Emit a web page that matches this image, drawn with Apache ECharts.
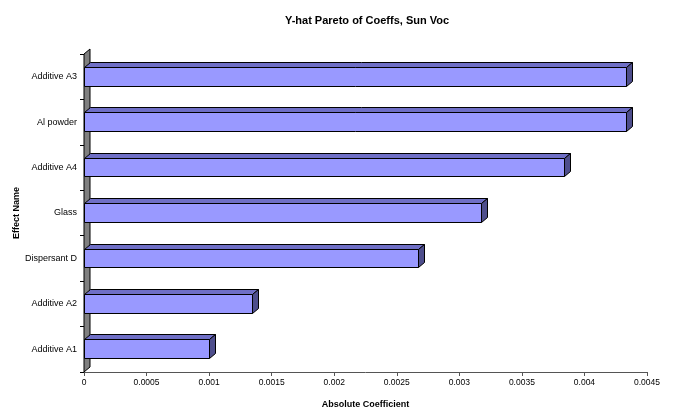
<!DOCTYPE html>
<html>
<head>
<meta charset="utf-8">
<script src="https://cdn.jsdelivr.net/npm/echarts@6/dist/echarts.min.js"></script>
<style>
  html, body { margin: 0; padding: 0; background: #fff; }
  #chart { width: 673px; height: 412px; }
</style>
</head>
<body>
<div id="chart"></div>
<script>
// Effects, listed top to bottom
const categories = ['Additive A3', 'Al powder', 'Additive A4', 'Glass', 'Dispersant D', 'Additive A2', 'Additive A1'];
// Absolute coefficient for each effect
const coefficients = [0.00433, 0.00433, 0.00384, 0.00317, 0.00267, 0.00134, 0.00100];
// Value-axis tick labels
const tickLabels = ['0', '0.0005', '0.001', '0.0015', '0.002', '0.0025', '0.003', '0.0035', '0.004', '0.0045'];
const TICK_STEP = 0.0005;

// 3D extrusion of bars and wall
const DX = 6, DY = 5;
const FRONT = '#9999ff', TOP = '#6f6fc6', SIDE = '#4e4e8c';
const FONT = '"Liberation Sans", Arial, sans-serif';

const chart = echarts.init(document.getElementById('chart'), null, { renderer: 'canvas' });

function renderWall(params, api) {
  const cs = params.coordSys;
  const x = cs.x, y = cs.y, h = cs.height;
  return {
    type: 'polygon',
    shape: { points: [[x, y + h], [x, y], [x + DX, y - DY], [x + DX, y + h - DY]] },
    style: { fill: '#808080', stroke: '#000', lineWidth: 1 }
  };
}

function renderBar(params, api) {
  const v = api.value(0);
  const ci = api.value(1);
  const p0 = api.coord([0, ci]);
  const p1 = api.coord([v, ci]);
  const band = api.size([0, 1])[1];
  const h = band * 0.41;
  const cy = p0[1] - 0.5;
  const x0 = Math.round(p0[0]) + 0.5, x1 = Math.round(p1[0]) + 0.5;
  const yt = Math.round(cy - h / 2) + 0.5, yb = Math.round(cy + h / 2) + 0.5;
  const line = { stroke: '#000', lineWidth: 1 };
  return {
    type: 'group',
    children: [
      { type: 'polygon', shape: { points: [[x0, yt], [x1, yt], [x1 + DX, yt - DY], [x0 + DX, yt - DY]] },
        style: Object.assign({ fill: TOP }, line) },
      { type: 'polygon', shape: { points: [[x1, yt], [x1 + DX, yt - DY], [x1 + DX, yb - DY], [x1, yb]] },
        style: Object.assign({ fill: SIDE }, line) },
      { type: 'rect', shape: { x: x0, y: yt, width: x1 - x0, height: yb - yt },
        style: Object.assign({ fill: FRONT }, line) }
    ]
  };
}

chart.setOption({
  animation: false,
  backgroundColor: '#fff',
  title: {
    text: 'Y-hat Pareto of Coeffs, Sun Voc',
    left: 362,
    textAlign: 'center',
    top: 10,
    textStyle: { fontFamily: FONT, fontSize: 11, fontWeight: 'bold', color: '#000' }
  },
  grid: { left: 84, right: 26, top: 54, bottom: 40, containLabel: false, outerBoundsMode: 'none' },
  xAxis: {
    type: 'value',
    min: 0,
    max: 0.0045,
    interval: TICK_STEP,
    name: 'Absolute Coefficient',
    nameLocation: 'middle',
    nameGap: 28,
    nameMoveOverlap: false,
    nameTextStyle: { fontFamily: FONT, fontSize: 9, fontWeight: 'bold', color: '#000' },
    axisLine: { show: true, lineStyle: { color: '#555', width: 1 } },
    axisTick: { show: true, length: 4, lineStyle: { color: '#555' } },
    axisLabel: {
      fontFamily: FONT, fontSize: 8.5, color: '#000', margin: 6,
      formatter: v => tickLabels[Math.round(v / TICK_STEP)]
    },
    splitLine: { show: false }
  },
  yAxis: {
    type: 'category',
    data: categories,
    inverse: true,
    name: 'Effect Name',
    nameLocation: 'middle',
    nameGap: 63,
    nameRotate: 90,
    nameMoveOverlap: false,
    nameTextStyle: { fontFamily: FONT, fontSize: 9, fontWeight: 'bold', color: '#000' },
    axisLine: { show: true, lineStyle: { color: '#000', width: 1 } },
    axisTick: { show: true, length: 4, lineStyle: { color: '#000' } },
    axisLabel: { fontFamily: FONT, fontSize: 9, color: '#000', margin: 7 },
    splitLine: { show: false }
  },
  series: [
    {
      type: 'custom',
      name: 'wall',
      renderItem: renderWall,
      data: [[0, 0]],
      encode: { x: 0, y: 1 },
      silent: true,
      z: 1
    },
    {
      type: 'custom',
      name: 'Absolute Coefficient',
      renderItem: renderBar,
      data: coefficients.map((v, i) => [v, i]),
      encode: { x: 0, y: 1 },
      z: 2
    }
  ]
});
</script>
</body>
</html>
